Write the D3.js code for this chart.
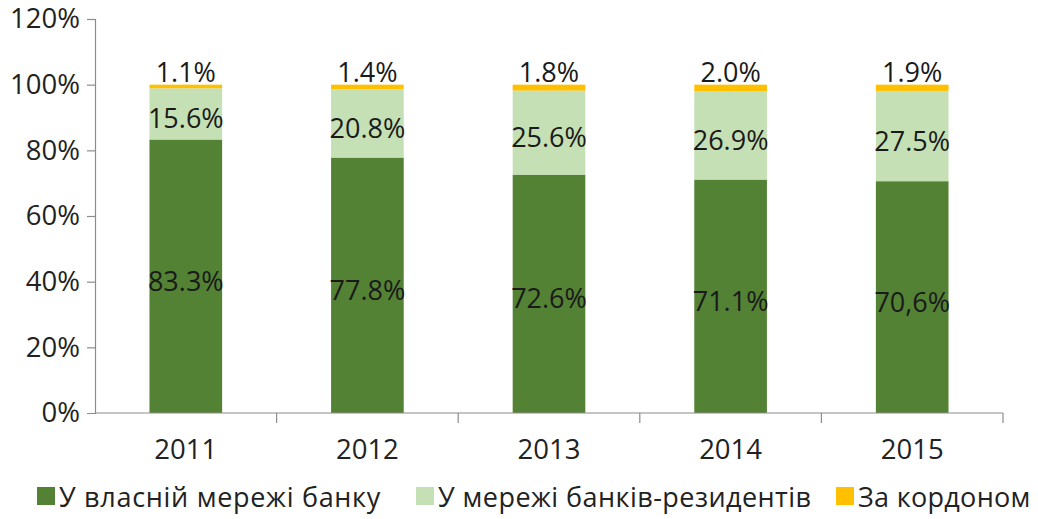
<!DOCTYPE html>
<html>
<head>
<meta charset="utf-8">
<script src="https://cdn.jsdelivr.net/npm/d3@7"></script>
<style>
  html, body { margin: 0; padding: 0; background: #fff; }
  svg { display: block; }
  text { font-family: "Open Sans", "Noto Sans", sans-serif; }
</style>
</head>
<body>
<svg id="chart" width="1038" height="519"></svg>
<script>
const years = ["2011", "2012", "2013", "2014", "2015"];
const seriesNames = ["У власній мережі банку", "У мережі банків-резидентів", "За кордоном"];
const ownNetwork = [83.3, 77.8, 72.6, 71.1, 70.6];
const residentBanks = [15.6, 20.8, 25.6, 26.9, 27.5];
const abroad = [1.1, 1.4, 1.8, 2.0, 1.9];
const ownLabels = ["83.3%", "77.8%", "72.6%", "71.1%", "70,6%"];
const residentLabels = ["15.6%", "20.8%", "25.6%", "26.9%", "27.5%"];
const abroadLabels = ["1.1%", "1.4%", "1.8%", "2.0%", "1.9%"];
const yTicks = [0, 20, 40, 60, 80, 100, 120];
const colors = ["#548235", "#c5e0b4", "#ffc000"];

const svg = d3.select("#chart");
const margin = { left: 95, right: 35, top: 19, bottom: 106 };
const W = 1038, H = 519;

const x = d3.scaleBand().domain(years).range([margin.left, W - margin.right]).paddingInner(0.6).paddingOuter(0.3);
const xEdges = d3.scaleBand().domain(years).range([margin.left, W - margin.right]);
const y = d3.scaleLinear().domain([0, 120]).range([H - margin.bottom, margin.top]);

const table = years.map((yr, i) => ({ year: yr, s0: ownNetwork[i], s1: residentBanks[i], s2: abroad[i] }));
const stacked = d3.stack().keys(["s0", "s1", "s2"])(table);
const labelSets = [ownLabels, residentLabels, abroadLabels];

// Bars
stacked.forEach((layer, li) => {
  svg.append("g").selectAll("rect").data(layer).join("rect")
    .attr("x", d => x(d.data.year))
    .attr("width", x.bandwidth())
    .attr("y", d => y(d[1]))
    .attr("height", d => y(d[0]) - y(d[1]))
    .attr("fill", colors[li]);
});

// Y axis
const yAxis = svg.append("g").attr("transform", `translate(${margin.left},0)`)
  .call(d3.axisLeft(y).tickValues(yTicks).tickFormat(d => d + "%").tickSize(8).tickPadding(7));
yAxis.select(".domain").attr("stroke", "#8c8c8c").attr("stroke-width", 1.2);
yAxis.selectAll(".tick line").attr("stroke", "#8c8c8c").attr("stroke-width", 1.2);
yAxis.selectAll(".tick text").attr("font-size", 27.5).attr("fill", "#222")
  .attr("font-family", '"Open Sans", sans-serif');
yAxis.selectAll(".tick").filter(d => d === 0).select("line").remove();

// X axis
const xAxisG = svg.append("g").attr("transform", `translate(0,${y(0)})`);
xAxisG.append("line").attr("x1", margin.left).attr("x2", W - margin.right)
  .attr("stroke", "#8c8c8c").attr("stroke-width", 1.2);
xAxisG.selectAll("line.tk").data(years).join("line").attr("class", "tk")
  .attr("x1", d => xEdges(d) + xEdges.bandwidth()).attr("x2", d => xEdges(d) + xEdges.bandwidth())
  .attr("y1", 0).attr("y2", 10).attr("stroke", "#8c8c8c").attr("stroke-width", 1.2);
xAxisG.selectAll("text").data(years).join("text")
  .attr("x", d => x(d) + x.bandwidth() / 2).attr("y", 35)
  .attr("text-anchor", "middle").attr("dominant-baseline", "central")
  .attr("font-size", 27.5).attr("fill", "#222").text(d => d);

// Data labels
stacked.forEach((layer, li) => {
  svg.append("g").selectAll("text").data(layer).join("text")
    .attr("x", d => x(d.data.year) + x.bandwidth() / 2)
    .attr("y", d => li === 2 ? y(d[1]) - 13 : (y(d[0]) + y(d[1])) / 2 + 4)
    .attr("text-anchor", "middle").attr("dominant-baseline", "central")
    .attr("font-size", 27).attr("fill", "#1a1a1a")
    .text((d, i) => labelSets[li][i]);
});

// Legend
const legendX = [37, 416, 836];
const legendSpacing = [0.7, 0.45, 0.3];
const lg = svg.append("g");
seriesNames.forEach((name, i) => {
  lg.append("rect").attr("x", legendX[i]).attr("y", 487).attr("width", 18).attr("height", 18).attr("fill", colors[i]);
  lg.append("text").attr("x", legendX[i] + 22).attr("y", 496).attr("dominant-baseline", "central")
    .attr("font-size", 27).attr("letter-spacing", legendSpacing[i]).attr("fill", "#222").text(name);
});
</script>
</body>
</html>
